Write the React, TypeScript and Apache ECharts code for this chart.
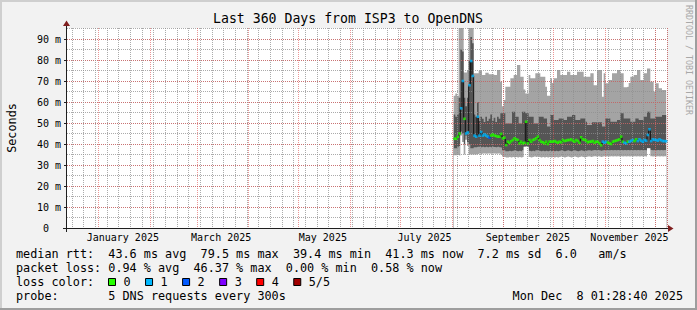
import React, { useEffect, useRef } from "react";
import * as echarts from "echarts";

// ---- time axis ----
const axisStartDay = "2024-12-13";
const axisDayCount = 360;
const dataStartDay = "2025-08-02";

// ---- smoke data (ms), one value per day from dataStartDay ----
const smokeMax = [
  63, 64, 63, 95.5, 95.5, 95.5, 74, 74, 75, 95.5,
  95.5, 95.5, 73.7, 73.7, 73.7, 74.9, 74.9, 72.9, 72.9, 73.9,
  73.9, 73.2, 73.2, 73.2, 72.9, 72.9, 75.2, 75.2, 69.7, 58,
  61, 67.3, 67.3, 67.3, 71.3, 71.3, 72.9, 72.9, 77.6, 77.6,
  72, 72, 66, 64, 64, 72.9, 71.3, 71.3, 71.3, 73.7,
  73.7, 73.7, 72, 72, 72, 67.3, 63, 63, 71.3, 69,
  71.3, 71.3, 75.2, 75.2, 72.9, 72.9, 72.9, 72.9, 74.4, 74.4,
  72.9, 72.9, 72.9, 72.9, 74.4, 74.4, 74.4, 74.4, 72, 72,
  72, 72, 73.7, 73.7, 68, 68, 75.2, 75.2, 75.2, 62.5,
  73.7, 68.9, 68.9, 70.5, 70.5, 73.7, 73.7, 73.7, 75.2, 75.2,
  73.7, 73.7, 67, 67, 67.3, 69, 72, 72, 72.9, 72.9,
  75.2, 75.2, 70.5, 70.5, 73.7, 73.7, 76, 76, 69.7, 69.7,
  65, 68.9, 68.9, 66.5, 66.5, 65.7, 65.7, 65.7,
];
const smokeUpper = [
  54, 53, 54, 62, 85, 84, 62, 58, 62, 80,
  91, 88, 54, 53, 60, 51, 53, 52, 50.5, 53,
  51, 52, 54, 51, 52.5, 50.5, 53, 52, 54.6, 54.6,
  54.6, 49.8, 49.8, 49.8, 49.8, 55.4, 55.4, 53, 53, 49.8,
  49.8, 55.4, 55.4, 54.6, 54.6, 53, 53, 53, 49.8, 49.8,
  49.8, 53, 53, 53, 52.2, 52.2, 48.3, 48.3, 53.8, 53.8,
  51.4, 51.4, 51.4, 52.2, 52.2, 52.2, 51.4, 51.4, 53, 53,
  53, 53.8, 53.8, 51.4, 51.4, 51.4, 52.2, 52.2, 52.2, 50.6,
  49, 49, 49, 50.3, 50.3, 50.3, 50.3, 50.3, 50.3, 48.3,
  48.3, 52.2, 52.2, 52.2, 50.6, 50.6, 50.6, 50.6, 51.4, 51.4,
  54.6, 54.6, 52.2, 52.2, 52.2, 52.2, 50.6, 50.6, 50.6, 52.2,
  52.2, 51.4, 51.4, 51.4, 53, 53, 55.4, 55.4, 52.2, 52.2,
  52.2, 53, 53, 53, 53, 53.8, 53.8, 53.8,
];
const medianRtt = [
  42.5, 42.5, 43.5, 45, 57, 70, 52, 45, 45.5, 68,
  79.5, 72.4, 44, 43.5, 53, 44, 45.7, 44, 44.5, 44,
  43.5, 43, 44, 44.5, 44, 43.8, 43.5, 43.5, 44.8, 42.7,
  43, 39.5, 41.1, 40.6, 41.3, 41.9, 42.7, 42.2, 41.9, 40.3,
  41.1, 40.3, 40.6, 50.6, 40.3, 41.9, 41.1, 41.9, 42.2, 42.7,
  43.5, 41.9, 41.1, 40.8, 40.3, 41.1, 40, 41.1, 41.1, 41.1,
  41.4, 41, 40.6, 41.1, 40.8, 41.9, 41.4, 41.6, 41.9, 41.9,
  42.2, 41.6, 41.1, 41.9, 41.4, 40.6, 43.2, 42.2, 42, 41.6,
  40.8, 41.1, 41.1, 41.4, 40.6, 41.1, 41, 40.3, 39.4, 41.1,
  40.6, 41.1, 40.7, 40.3, 40, 41.1, 41.4, 41.6, 41.9, 42.2,
  43.5, 41.1, 40.6, 40.3, 41.1, 41.1, 41.5, 41.9, 41.4, 42.2,
  41.4, 42.2, 41.6, 41.1, 41.9, 41.6, 44.3, 47, 41.4, 42.2,
  42, 41.9, 41.6, 42.2, 41.8, 41.4, 41.4, 41.3,
];
const smokeLower = [
  38, 38, 38.5, 39, 46, 45, 40, 44, 41, 40,
  38, 38, 38.5, 38.5, 38.7, 38.7, 38.5, 38.7, 38.5, 38.7,
  38.5, 38.7, 38.5, 38.7, 38.6, 38.5, 38.7, 38.5, 38.3, 37,
  37, 36.5, 36.5, 36.8, 36.5, 36.8, 37, 36.8, 36.5, 36.8,
  36.5, 37, 38.7, 39, 38.7, 36.8, 36.5, 36.8, 36.5, 37,
  37, 36.8, 36.5, 36.8, 36.5, 36.8, 36.5, 36.8, 36.5, 36.8,
  36.5, 36.8, 36.5, 36.8, 37, 36.8, 36.5, 36.8, 37, 36.8,
  36.5, 36.8, 37, 36.8, 36.5, 36.8, 37, 36.8, 36.5, 36.8,
  37, 37, 36.8, 37, 37.2, 37, 37.2, 37, 36.8, 37,
  37.2, 37, 37.2, 37, 37.2, 37, 37.2, 37, 37.2, 37,
  37.2, 37, 37.2, 37, 37.2, 37, 37.2, 37, 37.2, 37,
  37.2, 37, 37.2, 37, 37.2, 37, 38, 38, 37.2, 37,
  37.2, 37, 37.2, 37, 37.2, 37, 37.2, 37,
];
const smokeMin = [
  34.6, 34.6, 34.8, 34.5, 44, 41, 35, 42, 39, 35,
  35, 35, 35, 35, 35.2, 35.5, 35.2, 35.5, 35.5, 35.3,
  35.5, 35.5, 35.3, 35.5, 35.5, 35.3, 35.5, 35.5, 35, 34,
  33.8, 33.6, 33.6, 33.8, 33.6, 33.8, 33.6, 33.8, 33.6, 33.8,
  33.6, 33.8, 38.7, 38.7, 38.7, 33.8, 33.6, 33.8, 34, 33.8,
  34, 33.8, 33.6, 33.8, 33.6, 33.8, 33.6, 33.8, 33.6, 33.8,
  33.6, 33.8, 33.6, 33.8, 34, 33.8, 33.6, 33.8, 34, 33.8,
  33.6, 33.8, 34, 33.8, 33.6, 33.8, 34, 33.8, 33.6, 33.8,
  34, 34, 33.8, 34, 34.2, 34, 34.2, 34, 33.8, 34,
  34.2, 34, 34.2, 34, 34.2, 34, 34.2, 34, 34.2, 34,
  34.2, 34, 34.2, 34, 34.2, 34, 34.2, 34, 34.2, 34,
  34.2, 34, 34.2, 34, 34.2, 34, 38, 38, 34.2, 34,
  34.2, 34, 34.2, 34, 34.2, 34, 34.2, 34,
];
const lossLevel = [
  0, 0, 0, 0, 1, 1, 0, 1, 1, 1,
  1, 1, 1, 1, 1, 1, 1, 1, 1, 1,
  1, 2, 0, 0, 0, 0, 0, 0, 0, 0,
  0, 0, 0, 0, 0, 0, 0, 0, 0, 0,
  0, 0, 0, 0, 0, 0, 0, 0, 0, 0,
  0, 0, 0, 0, 0, 0, 0, 0, 0, 0,
  0, 0, 0, 0, 0, 0, 0, 0, 0, 0,
  0, 0, 0, 0, 0, 0, 0, 0, 0, 0,
  0, 0, 0, 0, 0, 0, 0, 0, 0, 1,
  1, 1, 0, 0, 0, 0, 0, 0, 0, 0,
  0, 0, 1, 1, 0, 1, 1, 1, 0, 0,
  1, 1, 1, 1, 1, 1, 1, 1, 1, 1,
  1, 1, 1, 1, 1, 1, 1, 1,
];

// ---- labels ----
const xLabelDays = ["2025-01-15", "2025-03-15", "2025-05-15", "2025-07-15", "2025-09-15", "2025-11-15"];
const xLabelTexts = ["January 2025", "March 2025", "May 2025", "July 2025", "September 2025", "November 2025"];
const yMax = 200 / 2.1;
const lossColors = ["#26ff00", "#00b8ff", "#0059ff", "#7e00ff", "#ff0000", "#a10000"];
const lossLabels = ["0", "1", "2", "3", "4", "5/5"];

const titleText = "Last 360 Days from ISP3 to OpenDNS";
const yAxisTitle = "Seconds";
const watermarkText = "RRDTOOL / TOBI OETIKER";
const medianRow = "median rtt:  43.6 ms avg  79.5 ms max  39.4 ms min  41.3 ms now  7.2 ms sd  6.0   am/s";
const lossRow = "packet loss: 0.94 % avg  46.37 % max  0.00 % min  0.58 % now";
const lossColorRow = "loss color:";
const probeRow = "probe:       5 DNS requests every 300s";
const stampRow = "Mon Dec  8 01:28:40 2025";

const MONO = "'DejaVu Sans Mono', 'Liberation Mono', monospace";
const LIGHT = "#a4a4a4";
const DARK = "#555555";
const GRID = "rgba(143,143,143,0.75)";
const MGRID = "rgba(222,79,79,0.6)";

function buildOption() {
  const t0 = Date.UTC(2024, 11, 13);
  const days: string[] = [];
  const isMonday: boolean[] = [];
  for (let i = 0; i < axisDayCount; i++) {
    const d = new Date(t0 + i * 86400000);
    days.push(d.toISOString().slice(0, 10));
    isMonday.push(d.getUTCDay() === 1);
  }
  const off = days.indexOf(dataStartDay);
  const full = (arr: number[]) => {
    const out: (number | null)[] = new Array(axisDayCount).fill(null);
    arr.forEach((v, k) => (out[off + k] = v));
    return out;
  };
  const dots = medianRtt.map((v, k) => ({
    value: [off + k, v],
    itemStyle: { color: lossColors[lossLevel[k]] },
  }));
  const labelIdx = new Set(xLabelDays.map((d) => days.indexOf(d)));

  // painter's layers: each area fills from its edge down to 0
  const layer = (arr: number[], color: string) => ({
    type: "line",
    step: "middle",
    data: full(arr),
    symbol: "none",
    silent: true,
    lineStyle: { width: 0, opacity: 0 },
    areaStyle: { color, opacity: 1 },
    z: 2,
  });

  const charW = 7.1;
  const rowText = (s: string, x0: number, y: number) => {
    const items: any[] = [];
    const re = /\S+/g;
    let m: RegExpExecArray | null;
    while ((m = re.exec(s))) {
      items.push({
        type: "text",
        x: x0 + m.index * charW,
        y,
        z: 20,
        style: {
          text: m[0],
          fill: "#000",
          fontFamily: MONO,
          fontSize: 11.8,
          align: "left",
          verticalAlign: "middle",
          textAlign: "left",
          textVerticalAlign: "middle",
        },
      });
    }
    return items;
  };

  const legendBoxes: any[] = [];
  lossLabels.forEach((lab, i) => {
    const bx = 108 + i * 37.05;
    legendBoxes.push({
      type: "rect",
      z: 20,
      shape: { x: bx + 0.5, y: 278.5, width: 7, height: 7 },
      style: { fill: lossColors[i], stroke: "#000", lineWidth: 1 },
    });
    legendBoxes.push(...rowText(lab, bx + 15.5, 282));
  });

  const graphic: any[] = [
    { type: "rect", z: 1, shape: { x: 0, y: 0, width: 697, height: 2 }, style: { fill: "#cfcfcf" } },
    { type: "rect", z: 1, shape: { x: 0, y: 0, width: 2, height: 310 }, style: { fill: "#cfcfcf" } },
    { type: "rect", z: 1, shape: { x: 0, y: 308, width: 697, height: 2 }, style: { fill: "#9e9e9e" } },
    { type: "rect", z: 1, shape: { x: 695, y: 0, width: 2, height: 310 }, style: { fill: "#9e9e9e" } },
    {
      type: "text", x: 348, y: 18, z: 20,
      style: { text: titleText, fill: "#000", fontFamily: MONO, fontSize: 13.2, align: "center", verticalAlign: "middle", textAlign: "center", textVerticalAlign: "middle" },
    },
    {
      type: "text", x: 12, y: 128, rotation: Math.PI / 2, z: 20,
      style: { text: yAxisTitle, fill: "#000", fontFamily: MONO, fontSize: 11.8, align: "center", verticalAlign: "middle", textAlign: "center", textVerticalAlign: "middle" },
    },
    {
      type: "text", x: 688.5, y: 60, rotation: -Math.PI / 2, z: 20,
      style: { text: watermarkText, fill: "#a8a8a8", fontFamily: MONO, fontSize: 8.3, align: "center", verticalAlign: "middle", textAlign: "center", textVerticalAlign: "middle" },
    },
    { type: "line", z: 15, shape: { x1: 63, y1: 228.5, x2: 669, y2: 228.5 }, style: { stroke: "#1f1f1f", lineWidth: 1 } },
    { type: "line", z: 15, shape: { x1: 66.5, y1: 232, x2: 66.5, y2: 25 }, style: { stroke: "#1f1f1f", lineWidth: 1 } },
    { type: "polygon", z: 16, shape: { points: [[668, 225], [673.5, 228.5], [668, 232]] }, style: { fill: "#801f1f" } },
    { type: "polygon", z: 16, shape: { points: [[63, 26], [66.5, 20.5], [70, 26]] }, style: { fill: "#801f1f" } },
    ...rowText(medianRow, 16, 254.3),
    ...rowText(lossRow, 16, 268.3),
    ...rowText(lossColorRow, 16, 282),
    ...legendBoxes,
    ...rowText(probeRow, 16, 296),
    ...rowText(stampRow, 683 - stampRow.length * charW, 296),
  ];

  const gridX = (interval: (i: number, v: string) => boolean, color: string) => ({
    type: "category",
    data: days,
    boundaryGap: true,
    position: "bottom",
    z: 4,
    axisLine: { show: false },
    axisTick: { show: false },
    axisLabel: { show: false },
    splitLine: { show: true, interval, lineStyle: { color, width: 1, type: [1, 1] } },
  });
  const gridY = (interval: number, color: string) => ({
    type: "value",
    min: 0,
    max: yMax,
    interval,
    position: "left",
    z: 4,
    axisLine: { show: false },
    axisTick: { show: false },
    axisLabel: { show: false },
    splitLine: { show: true, showMinLine: false, showMaxLine: false, lineStyle: { color, width: 1, type: [1, 1] } },
  });

  return {
    animation: false,
    backgroundColor: "#f2f2f2",
    textStyle: { fontFamily: MONO },
    grid: { left: 67, top: 28, width: 600, height: 200, show: true, backgroundColor: "#ffffff", borderWidth: 0 },
    xAxis: [
      {
        type: "category",
        data: days,
        boundaryGap: true,
        axisLine: { show: false },
        axisTick: { show: false },
        splitLine: { show: false },
        axisLabel: {
          interval: (i: number) => labelIdx.has(i),
          formatter: (v: string) => xLabelTexts[xLabelDays.indexOf(v)] ?? "",
          margin: 4,
          fontFamily: MONO,
          fontSize: 10,
          color: "#000",
        },
      },
      gridX((i: number) => isMonday[i], GRID),
      gridX((_i: number, v: string) => v.endsWith("-01"), MGRID),
    ],
    yAxis: [
      {
        type: "value",
        min: 0,
        max: yMax,
        interval: 10,
        position: "left",
        axisLine: { show: false },
        splitLine: { show: false },
        axisTick: { show: true, length: 3, lineStyle: { color: "#1f1f1f" } },
        axisLabel: {
          showMaxLabel: false,
          margin: 6,
          fontFamily: MONO,
          fontSize: 10,
          color: "#000",
          formatter: (v: number) => {
            if (Math.abs(v - Math.round(v / 10) * 10) > 0.01) return "";
            return v === 0 ? "{z|0}" : `${v} m`;
          },
          rich: { z: { fontFamily: MONO, fontSize: 10, color: "#000", padding: [0, 12, 0, 0] } },
        },
      },
      gridY(5, GRID),
      gridY(10, MGRID),
    ],
    series: [
      layer(smokeMax, LIGHT),
      layer(smokeUpper, DARK),
      layer(smokeLower, LIGHT),
      layer(smokeMin, "#ffffff"),
      {
        type: "line",
        step: "middle",
        data: full(medianRtt),
        symbol: "none",
        silent: true,
        lineStyle: { color: "#111111", width: 1 },
        z: 5,
      },
      {
        type: "scatter",
        data: dots,
        symbol: "rect",
        symbolSize: [2.6, 2.6],
        silent: true,
        z: 6,
      },
    ],
    graphic,
  };
}

export default function App() {
  const ref = useRef<HTMLDivElement>(null);
  useEffect(() => {
    if (!ref.current) return;
    const chart = echarts.init(ref.current, null, { renderer: "svg", width: 697, height: 310 });
    chart.setOption(buildOption() as any);
    return () => chart.dispose();
  }, []);
  return <div ref={ref} style={{ position: "absolute", left: 0, top: 0, width: 697, height: 310 }} />;
}
